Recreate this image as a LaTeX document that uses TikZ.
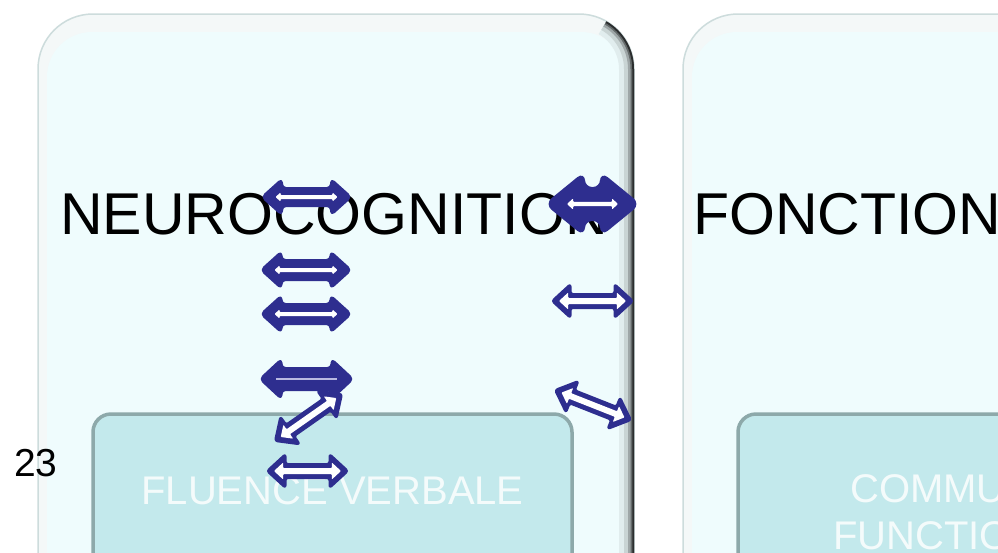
\documentclass[tikz,border=0pt]{standalone}
\usepackage{fontspec}
\setmainfont{Liberation Sans}
\usetikzlibrary{calc}
\definecolor{navy}{RGB}{46,46,143}
\definecolor{navylight}{RGB}{185,185,225}
\definecolor{panelfill}{RGB}{239,252,253}
\definecolor{panelrim}{RGB}{244,248,248}
\definecolor{panelline}{RGB}{205,220,220}
\definecolor{innerfill}{RGB}{195,233,236}
\definecolor{innerline}{RGB}{141,169,170}
\definecolor{innertext}{RGB}{244,251,251}
\tikzset{
  panel/.style={fill=panelrim, draw=panelline, line width=1.5pt, rounded corners=55pt},
  panelin/.style={fill=panelfill, rounded corners=45pt},
  innerbox/.style={fill=innerfill, draw=innerline, line width=3.5pt, rounded corners=18pt},
  bigtext/.style={font=\fontsize{59}{62}\selectfont, inner sep=0pt, anchor=base west, text=black},
  boxtext/.style={font=\fontsize{40}{42}\selectfont, inner sep=0pt, text=innertext},
  numtext/.style={font=\fontsize{39}{42}\selectfont, inner sep=0pt, anchor=base west, text=black},
  navyfill/.style={fill=navy, draw=navy, line width=2pt, rounded corners=4pt, line join=round},
  navybig/.style={fill=navy, draw=navy, line width=2pt, rounded corners=8pt, line join=round},
  navyout/.style={fill=navy, draw=navy, line width=2pt, rounded corners=2.5pt, line join=round},
  whitefill/.style={fill=white, draw=none, rounded corners=0.8pt},
  lightline/.style={draw=navylight, line width=1.5pt},
}
% arrow along two named coordinates
\newcommand\alongarrow[3]{%
  \path let \p1=(#1), \p2=(#2) in \pgfextra{%
    \pgfmathsetmacro\arrlen{veclen(\x2-\x1,\y2-\y1)}%
    \pgfmathsetmacro\arrang{atan2(\y2-\y1,\x2-\x1)}%
    \xdef\arrlenG{\arrlen}\xdef\arrangG{\arrang}};
  \begin{scope}[shift={(#1)}, rotate=\arrangG]#3\end{scope}}
% double-headed block polygon: style, shaft half, head half, head length, inset
\newcommand\arrpoly[5]{%
  \draw[#1] (#5,0) -- ({#5+#4},#3) -- ({#5+#4},#2) -- ({\arrlenG-#5-#4},#2)
    -- ({\arrlenG-#5-#4},#3) -- ({\arrlenG-#5},0) -- ({\arrlenG-#5-#4},-#3)
    -- ({\arrlenG-#5-#4},-#2) -- ({#5+#4},-#2) -- ({#5+#4},-#3) -- cycle;}
\begin{document}
\begin{tikzpicture}[x=1pt,y=-1pt]
\useasboundingbox (0,0) rectangle (998,552);
\clip (0,0) rectangle (998,552);
\fill[white] (0,0) rectangle (998,552);
% left panel
\draw[panel] (38,14) rectangle (634,640);
\fill[panelin] (47,32) rectangle (626,640);
\begin{scope}
  \clip[rounded corners=55pt] (38,14) rectangle (634,640);
  \foreach \w/\c in {30/6,20/16,12/34,7/58,3.5/82}{
    \draw[line width=\w pt, black!\c!panelfill] (606.5,21.4) arc[start angle=-60, end angle=0, radius=55] -- (634,640);
  }
\end{scope}
% right panel
\draw[panel] (683,14) rectangle (1100,640);
\fill[panelin] (692,32) rectangle (1100,640);
% inner boxes
\draw[innerbox] (93,414) rectangle (572,640);
\draw[innerbox] (738,414) rectangle (1100,640);
% texts
\node[bigtext] (neuro) at (60,234) {NEUROCOGNITION};
\node[bigtext] (fonct) at (693,234) {FONCTION};
\node[numtext] (num) at (14,476) {23};
\node[boxtext, anchor=base] (fluence) at (332.5,504) {FLUENCE VERBALE};
\node[boxtext, anchor=base west] (commu) at (850,502) {COMMU};
\node[boxtext, anchor=base west] (functio) at (833,549) {FUNCTIO};
% arrow end points
\coordinate (a1) at (263,197); \coordinate (a2) at (350,197);
\coordinate (b1) at (262,270); \coordinate (b2) at (350,270);
\coordinate (c1) at (262,314); \coordinate (c2) at (350,314);
\coordinate (d1) at (261,379); \coordinate (d2) at (352,379);
\coordinate (e1) at (275,441); \coordinate (e2) at (342,394);
\coordinate (f1) at (267,471); \coordinate (f2) at (348,471);
\coordinate (g1) at (547,204); \coordinate (g2) at (638,204);
\coordinate (h1) at (552,301); \coordinate (h2) at (633,301);
\coordinate (i1) at (555,390); \coordinate (i2) at (631,420);
% filled arrows
\alongarrow{a1}{a2}{\arrpoly{navyfill}{9}{18}{20}{-1}\arrpoly{whitefill}{2}{4.5}{5}{12.5}}
\alongarrow{b1}{b2}{\arrpoly{navyfill}{10}{18.5}{20.5}{-1}\arrpoly{whitefill}{2}{4.5}{5}{12.5}}
\alongarrow{c1}{c2}{\arrpoly{navyfill}{10}{18.5}{20.5}{-1}\arrpoly{whitefill}{2}{4.5}{5}{12.5}}
\alongarrow{d1}{d2}{\arrpoly{navyfill}{11}{20}{21.5}{-1}\draw[lightline] (15,0) -- ({\arrlenG-15},0);}
\alongarrow{g1}{g2}{\arrpoly{navybig}{16}{31}{38}{-1}\arrpoly{whitefill}{2.2}{5.5}{6}{20}}
% outlined arrows
\alongarrow{e1}{e2}{\arrpoly{navyout}{7}{17}{18.5}{0}\arrpoly{whitefill}{3}{8.5}{9.2}{7}}
\alongarrow{f1}{f2}{\arrpoly{navyout}{7}{17}{18.5}{0}\arrpoly{whitefill}{3}{8.5}{9.2}{7}}
\alongarrow{h1}{h2}{\arrpoly{navyout}{7}{17}{18.5}{0}\arrpoly{whitefill}{3}{8.5}{9.2}{7}}
\alongarrow{i1}{i2}{\arrpoly{navyout}{7}{17}{18.5}{0}\arrpoly{whitefill}{3}{8.5}{9.2}{7}}
\end{tikzpicture}
\end{document}
